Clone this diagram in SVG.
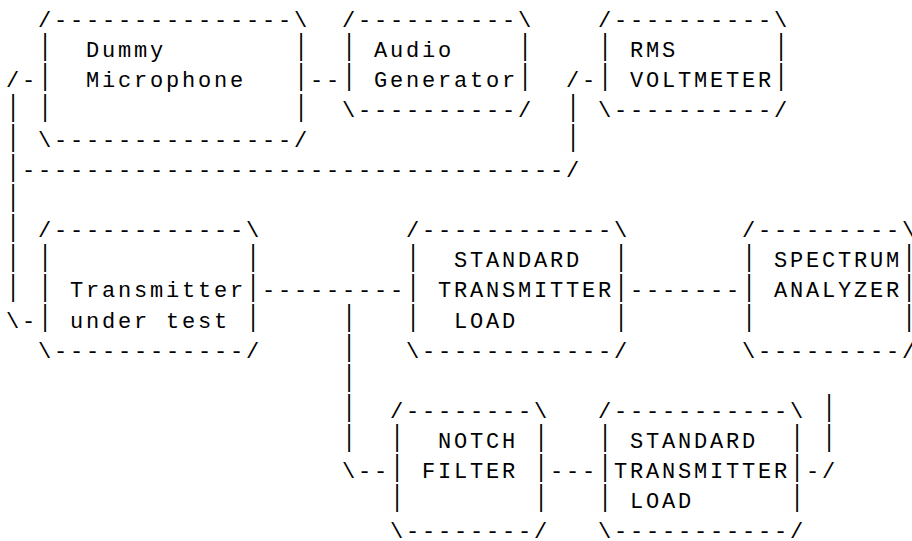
<svg xmlns="http://www.w3.org/2000/svg" width="912" height="541" viewBox="0 0 912 541">
  <style>
    /* every glyph sits on a 16px-wide character grid, 30.05px per row */
    text { font-family: "Liberation Mono", "DejaVu Sans Mono", monospace; fill: #000; white-space: pre; font-size: 22px; }
    .t { letter-spacing: 2.798px; }
    /* vertical strokes are stretched so the rows join up */
    .b { transform-box: fill-box; transform-origin: center; transform: scaleY(1.3); }
  </style>
  <rect width="912" height="541" fill="#fff"/>

  <g id="dummy-microphone">
    <text class="t" x="38" y="27">/---------------\</text>
    <text class="b" x="38.4" y="53.75">|</text><text class="b" x="294.4" y="53.75">|</text>
    <text class="b" x="38.4" y="83.8">|</text><text class="b" x="294.4" y="83.8">|</text>
    <text class="b" x="38.4" y="113.85">|</text><text class="b" x="294.4" y="113.85">|</text>
    <text class="t" x="86" y="57.05">Dummy</text>
    <text class="t" x="86" y="87.1">Microphone</text>
    <text class="t" x="38" y="147.2">\---------------/</text>
  </g>

  <g id="audio-generator">
    <text class="t" x="342" y="27">/----------\</text>
    <text class="b" x="342.4" y="53.75">|</text><text class="b" x="518.4" y="53.75">|</text>
    <text class="b" x="342.4" y="83.8">|</text><text class="b" x="518.4" y="83.8">|</text>
    <text class="t" x="374" y="57.05">Audio</text>
    <text class="t" x="374" y="87.1">Generator</text>
    <text class="t" x="342" y="117.15">\----------/</text>
  </g>

  <g id="rms-voltmeter">
    <text class="t" x="598" y="27">/----------\</text>
    <text class="b" x="598.4" y="53.75">|</text><text class="b" x="774.4" y="53.75">|</text>
    <text class="b" x="598.4" y="83.8">|</text><text class="b" x="774.4" y="83.8">|</text>
    <text class="t" x="630" y="57.05">RMS</text>
    <text class="t" x="630" y="87.1">VOLTMETER</text>
    <text class="t" x="598" y="117.15">\----------/</text>
  </g>

  <g id="transmitter-under-test">
    <text class="t" x="38" y="237.35">/------------\</text>
    <text class="b" x="38.4" y="264.1">|</text><text class="b" x="246.4" y="264.1">|</text>
    <text class="b" x="38.4" y="294.15">|</text><text class="b" x="246.4" y="294.15">|</text>
    <text class="b" x="38.4" y="324.2">|</text><text class="b" x="246.4" y="324.2">|</text>
    <text class="t" x="70" y="297.45">Transmitter</text>
    <text class="t" x="70" y="327.5">under test</text>
    <text class="t" x="38" y="357.55">\------------/</text>
  </g>

  <g id="standard-load-1">
    <text class="t" x="406" y="237.35">/------------\</text>
    <text class="b" x="406.4" y="264.1">|</text><text class="b" x="614.4" y="264.1">|</text>
    <text class="b" x="406.4" y="294.15">|</text><text class="b" x="614.4" y="294.15">|</text>
    <text class="b" x="406.4" y="324.2">|</text><text class="b" x="614.4" y="324.2">|</text>
    <text class="t" x="454" y="267.4">STANDARD</text>
    <text class="t" x="438" y="297.45">TRANSMITTER</text>
    <text class="t" x="454" y="327.5">LOAD</text>
    <text class="t" x="406" y="357.55">\------------/</text>
  </g>

  <g id="spectrum-analyzer">
    <text class="t" x="742" y="237.35">/---------\</text>
    <text class="b" x="742.4" y="264.1">|</text><text class="b" x="902.4" y="264.1">|</text>
    <text class="b" x="742.4" y="294.15">|</text><text class="b" x="902.4" y="294.15">|</text>
    <text class="b" x="742.4" y="324.2">|</text><text class="b" x="902.4" y="324.2">|</text>
    <text class="t" x="774" y="267.4">SPECTRUM</text>
    <text class="t" x="774" y="297.45">ANALYZER</text>
    <text class="t" x="742" y="357.55">\---------/</text>
  </g>

  <g id="notch-filter">
    <text class="t" x="390" y="417.65">/--------\</text>
    <text class="b" x="390.4" y="444.4">|</text><text class="b" x="534.4" y="444.4">|</text>
    <text class="b" x="390.4" y="474.45">|</text><text class="b" x="534.4" y="474.45">|</text>
    <text class="b" x="390.4" y="504.5">|</text><text class="b" x="534.4" y="504.5">|</text>
    <text class="t" x="438" y="447.7">NOTCH</text>
    <text class="t" x="422" y="477.75">FILTER</text>
    <text class="t" x="390" y="537.85">\--------/</text>
  </g>

  <g id="standard-load-2">
    <text class="t" x="598" y="417.65">/-----------\</text>
    <text class="b" x="598.4" y="444.4">|</text><text class="b" x="790.4" y="444.4">|</text>
    <text class="b" x="598.4" y="474.45">|</text><text class="b" x="790.4" y="474.45">|</text>
    <text class="b" x="598.4" y="504.5">|</text><text class="b" x="790.4" y="504.5">|</text>
    <text class="t" x="630" y="447.7">STANDARD</text>
    <text class="t" x="614" y="477.75">TRANSMITTER</text>
    <text class="t" x="630" y="507.8">LOAD</text>
    <text class="t" x="598" y="537.85">\-----------/</text>
  </g>

  <g id="connectors">
    <!-- microphone loop back to the transmitter, tapped by the voltmeter -->
    <text class="t" x="6" y="87.1">/-</text>
    <text class="t" x="310" y="87.1">--</text>
    <text class="t" x="566" y="87.1">/-</text>
    <text class="b" x="6.4" y="113.85">|</text>
    <text class="b" x="566.4" y="113.85">|</text>
    <text class="b" x="6.4" y="143.9">|</text>
    <text class="b" x="566.4" y="143.9">|</text>
    <text class="b" x="6.4" y="173.95">|</text>
    <text class="t" x="22" y="177.25">----------------------------------/</text>
    <text class="b" x="6.4" y="204">|</text>
    <text class="b" x="6.4" y="234.05">|</text>
    <text class="b" x="6.4" y="264.1">|</text>
    <text class="b" x="6.4" y="294.15">|</text>
    <text class="t" x="6" y="327.5">\-</text>
    <!-- transmitter output chain -->
    <text class="t" x="262" y="297.45">---------</text>
    <text class="t" x="630" y="297.45">-------</text>
    <!-- branch through the notch filter -->
    <text class="b" x="342.4" y="324.2">|</text>
    <text class="b" x="342.4" y="354.25">|</text>
    <text class="b" x="342.4" y="384.3">|</text>
    <text class="b" x="342.4" y="414.35">|</text>
    <text class="b" x="342.4" y="444.4">|</text>
    <text class="t" x="342" y="477.75">\--</text>
    <text class="t" x="550" y="477.75">---</text>
    <text class="t" x="806" y="477.75">-/</text>
    <text class="b" x="822.4" y="414.35">|</text>
    <text class="b" x="822.4" y="444.4">|</text>
  </g>
</svg>
